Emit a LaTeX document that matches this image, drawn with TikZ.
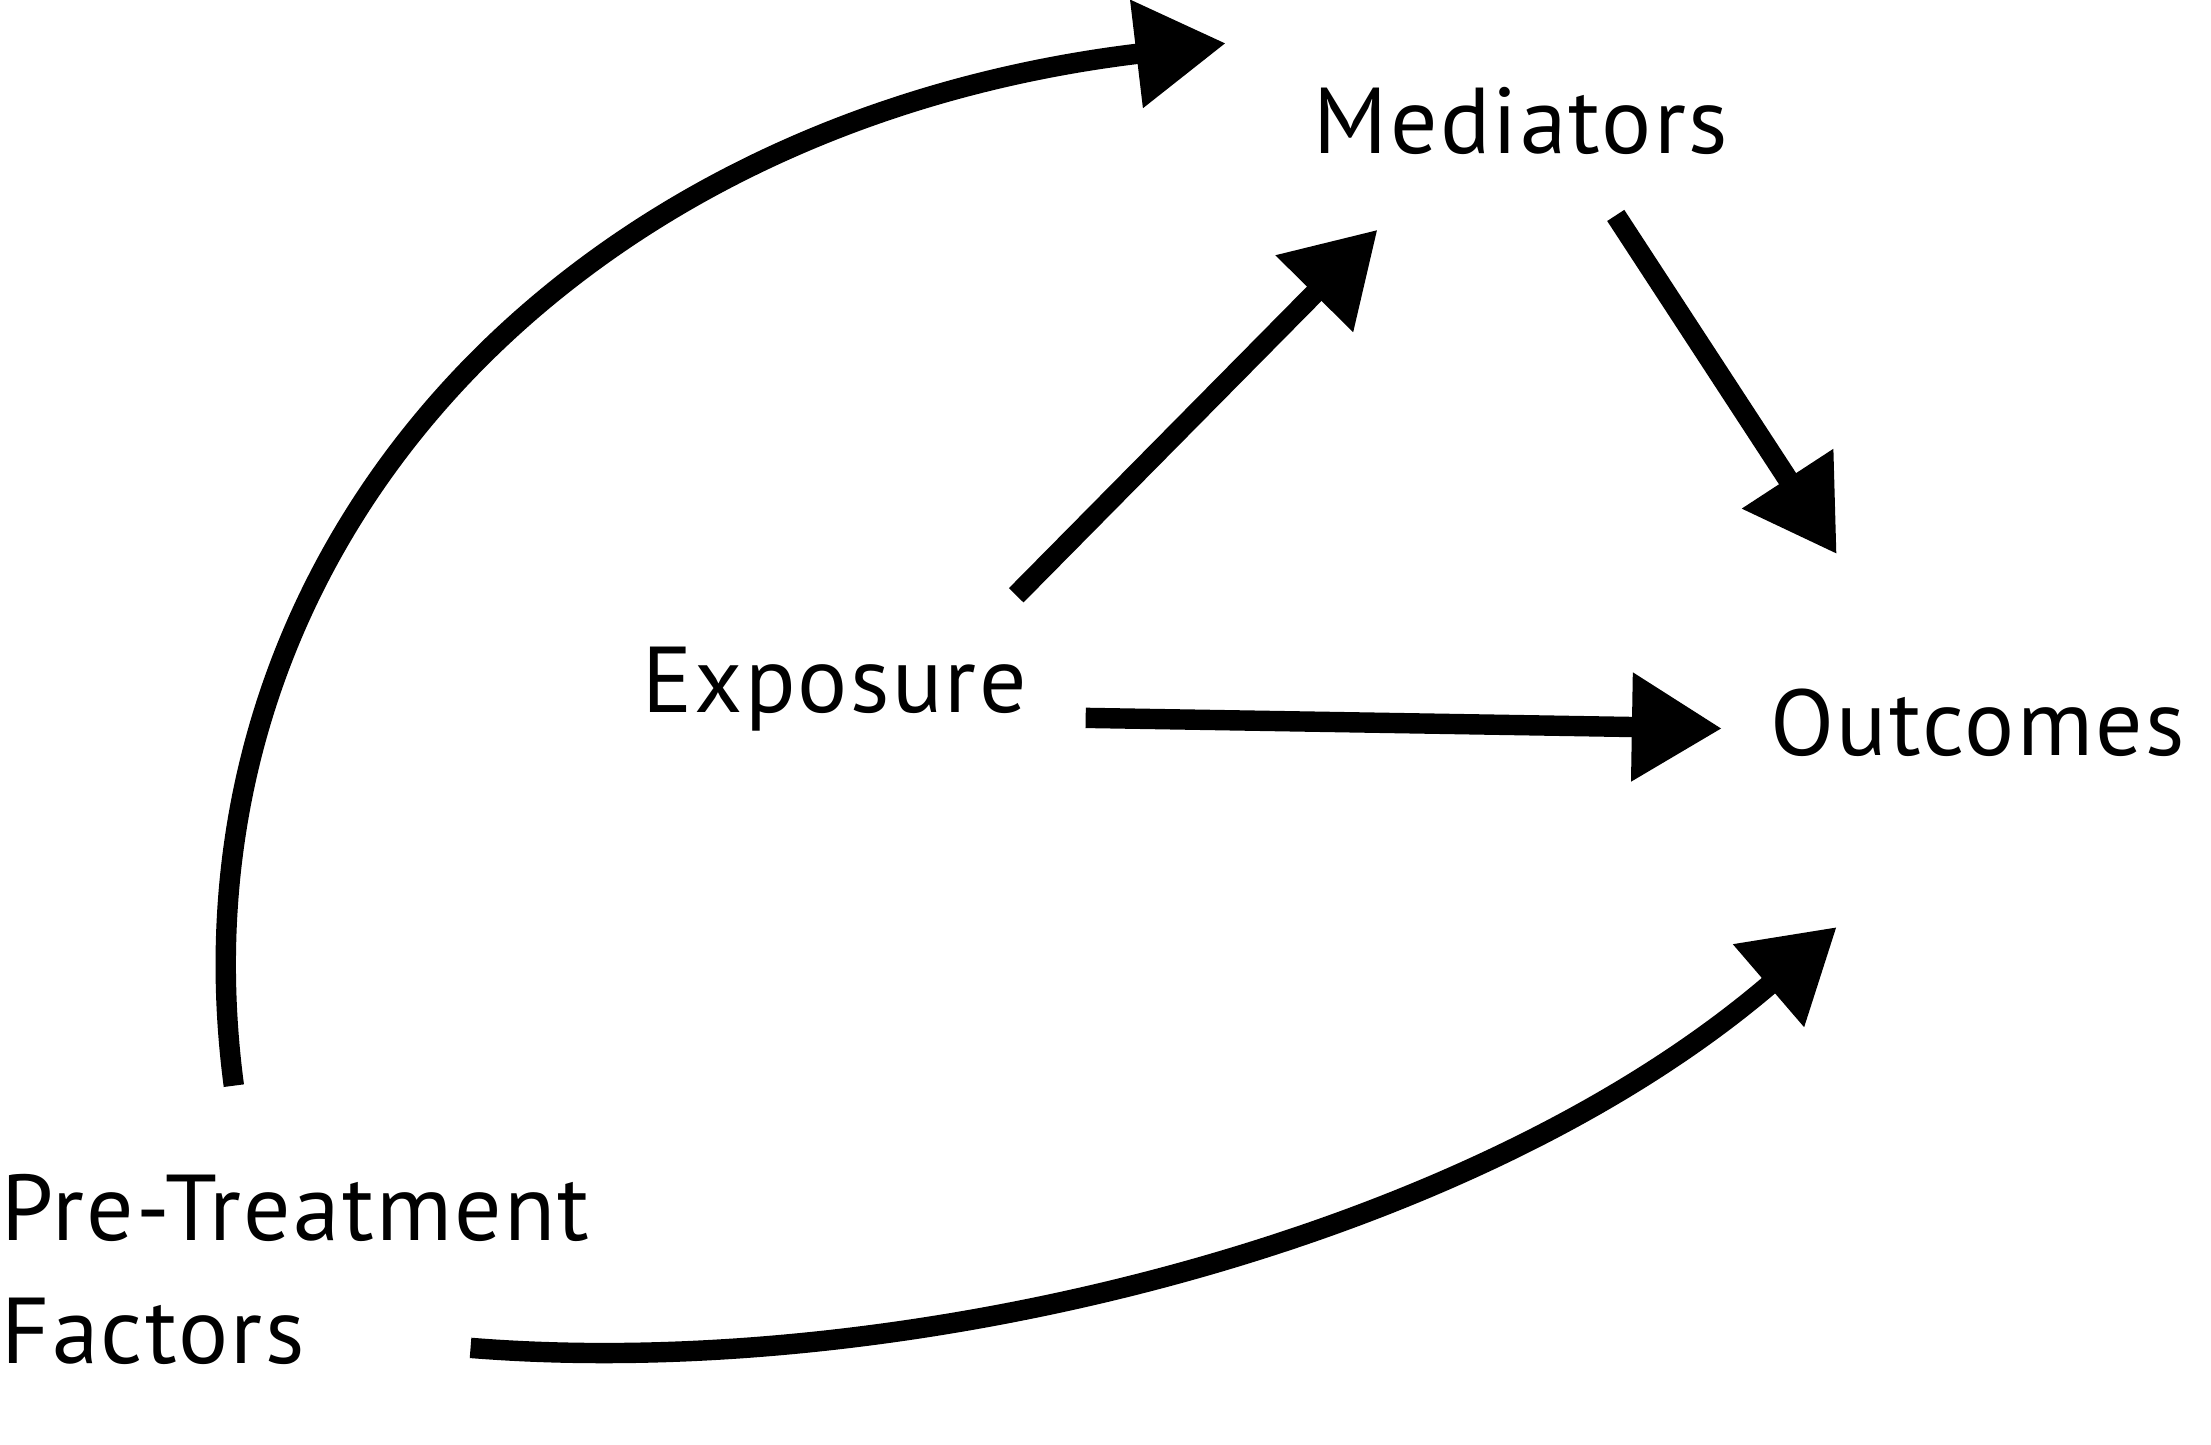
\documentclass[tikz,border=0pt]{standalone}
\usepackage{fontspec}
\setmainfont{PT Sans}[LetterSpace=2.5]
\usetikzlibrary{arrows.meta}
\tikzset{
  lbl/.style={inner sep=0pt, outer sep=0pt, anchor=base west, font=\fontsize{33}{43.5}\selectfont},
  conn/.style={line width=7.2pt, -{Triangle[length=31.8pt,width=36.5pt]}},
}
\begin{document}
\begin{tikzpicture}[x=0.5pt,y=-0.5pt]
\useasboundingbox (0,0) rectangle (1560,1019.5);
\node[lbl] (med) at (927,108) {Mediators};
\node[lbl] (exp) at (453,503) {Exposure};
\node[lbl] (out) at (1249,533) {Outcomes};
\node[lbl, align=left] (pre) at (1,962) {Pre-Treatment\\Factors};
% connector end points
\coordinate (c1s) at (165,766);
\coordinate (c1e) at (865,30.5);
\coordinate (c2s) at (717,420);
\coordinate (c2e) at (972,162);
\coordinate (c3s) at (1140,152);
\coordinate (c3e) at (1296,391);
\coordinate (c4s) at (766,506.5);
\coordinate (c4e) at (1215,514);
\coordinate (c5s) at (332,951);
\coordinate (c5e) at (1296,654);
\draw[conn] (c1s) .. controls (115,390) and (398,86) .. (c1e);
\draw[conn] (c2s) -- (c2e);
\draw[conn] (c3s) -- (c3e);
\draw[conn] (c4s) -- (c4e);
\draw[conn] (c5s) .. controls (630,975) and (1033,880) .. (c5e);
\end{tikzpicture}
\end{document}
